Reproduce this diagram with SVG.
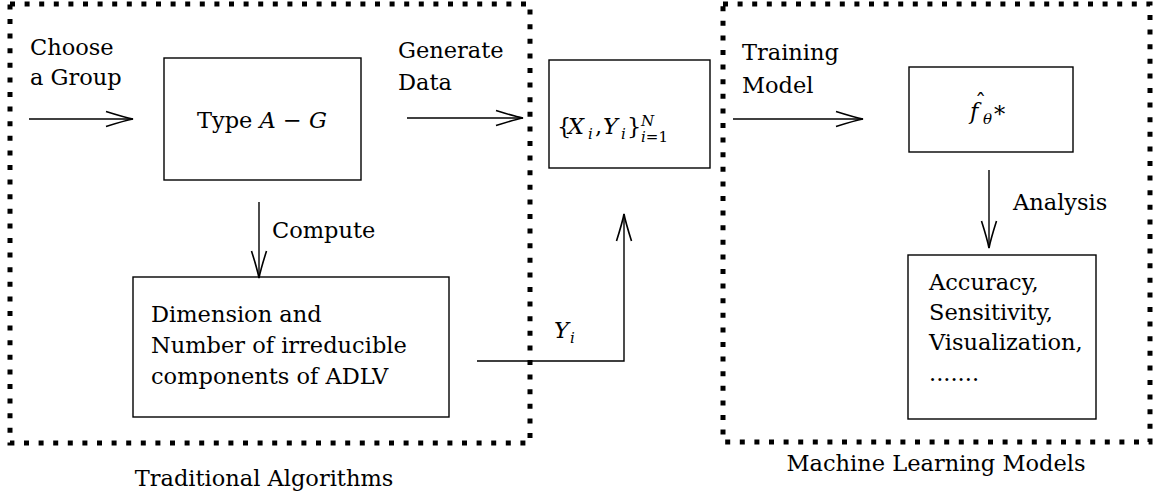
<svg xmlns="http://www.w3.org/2000/svg" width="1157" height="497" viewBox="0 0 1157 497">
<style>
.t{font-family:"DejaVu Serif",serif;font-size:22.5px;fill:#000}
.m{font-style:italic}
.s{font-size:15px}
.box{fill:none;stroke:#000;stroke-width:1.4}
.dot{fill:none;stroke:#000;stroke-width:5;stroke-dasharray:5 9.6}
.c{fill:none;stroke:#000;stroke-width:1.4}
</style>
<defs>
<marker id="arr" markerUnits="userSpaceOnUse" markerWidth="40" markerHeight="20" refX="0" refY="0" orient="auto" overflow="visible">
<path d="M -27 -7.5 Q -8 -1.5 0 0 Q -8 1.5 -27 7.5" fill="none" stroke="#000" stroke-width="1.6"/>
</marker>
</defs>
<rect fill="#fff" width="1157" height="497"/>
<g id="group-traditional">
<rect class="dot" x="10" y="4" width="520" height="439"/>
<text class="t" x="264" y="486" text-anchor="middle">Traditional Algorithms</text>
</g>
<g id="group-ml">
<rect class="dot" x="723" y="4" width="427" height="438"/>
<text class="t" x="936" y="471" text-anchor="middle">Machine Learning Models</text>
</g>
<g id="node-type">
<rect class="box" x="164" y="58" width="197" height="122"/>
<text class="t" x="262" y="128" text-anchor="middle">Type <tspan class="m">A</tspan> − <tspan class="m">G</tspan></text>
</g>
<g id="node-dimension">
<rect class="box" x="133" y="277" width="316" height="140"/>
<text class="t" x="151" y="322">Dimension and</text>
<text class="t" x="151" y="353">Number of irreducible</text>
<text class="t" x="151" y="384">components of ADLV</text>
</g>
<g id="node-data">
<rect class="box" x="549" y="60" width="161" height="108"/>
<text class="t" x="557" y="134" font-size="24">{</text>
<text class="t m" x="568" y="134" font-size="24">X</text>
<text class="t m s" x="588" y="139">i</text>
<text class="t" x="595" y="134" font-size="24">,</text>
<text class="t m" x="603" y="134" font-size="24">Y</text>
<text class="t m s" x="621" y="139">i</text>
<text class="t" x="627" y="134" font-size="24">}</text>
<text class="t m s" x="641" y="126">N</text>
<text class="t s" x="641" y="142"><tspan class="m">i</tspan>=1</text>
</g>
<g id="node-model">
<rect class="box" x="909" y="67" width="164" height="85"/>
<text class="t" x="975" y="110">ˆ</text>
<text class="t m" x="970" y="119" font-size="25">f</text>
<text class="t m s" x="983" y="124">θ</text>
<text class="t" x="994" y="122" font-size="13">*</text>
</g>
<g id="node-analysis">
<rect class="box" x="908" y="255" width="188" height="164"/>
<text class="t" x="929" y="290">Accuracy,</text>
<text class="t" x="929" y="320">Sensitivity,</text>
<text class="t" x="929" y="350">Visualization,</text>
<text class="t" x="929" y="381">.......</text>
</g>
<g id="connectors">
<path class="c" d="M29 119 H133" marker-end="url(#arr)"/>
<text class="t" x="30" y="55">Choose</text>
<text class="t" x="30" y="85">a Group</text>
<path class="c" d="M407 118 H523" marker-end="url(#arr)"/>
<text class="t" x="398" y="58">Generate</text>
<text class="t" x="398" y="90">Data</text>
<path class="c" d="M733 119 H863" marker-end="url(#arr)"/>
<text class="t" x="742" y="60">Training</text>
<text class="t" x="742" y="93">Model</text>
<path class="c" d="M259 202 V278" marker-end="url(#arr)"/>
<text class="t" x="272" y="238">Compute</text>
<path class="c" d="M989 170 V248" marker-end="url(#arr)"/>
<text class="t" x="1013" y="210">Analysis</text>
<path class="c" d="M477 361 H624 V214" marker-end="url(#arr)"/>
<text class="t m" x="554" y="338">Y</text>
<text class="t m s" x="570" y="343">i</text>
</g>
</svg>
